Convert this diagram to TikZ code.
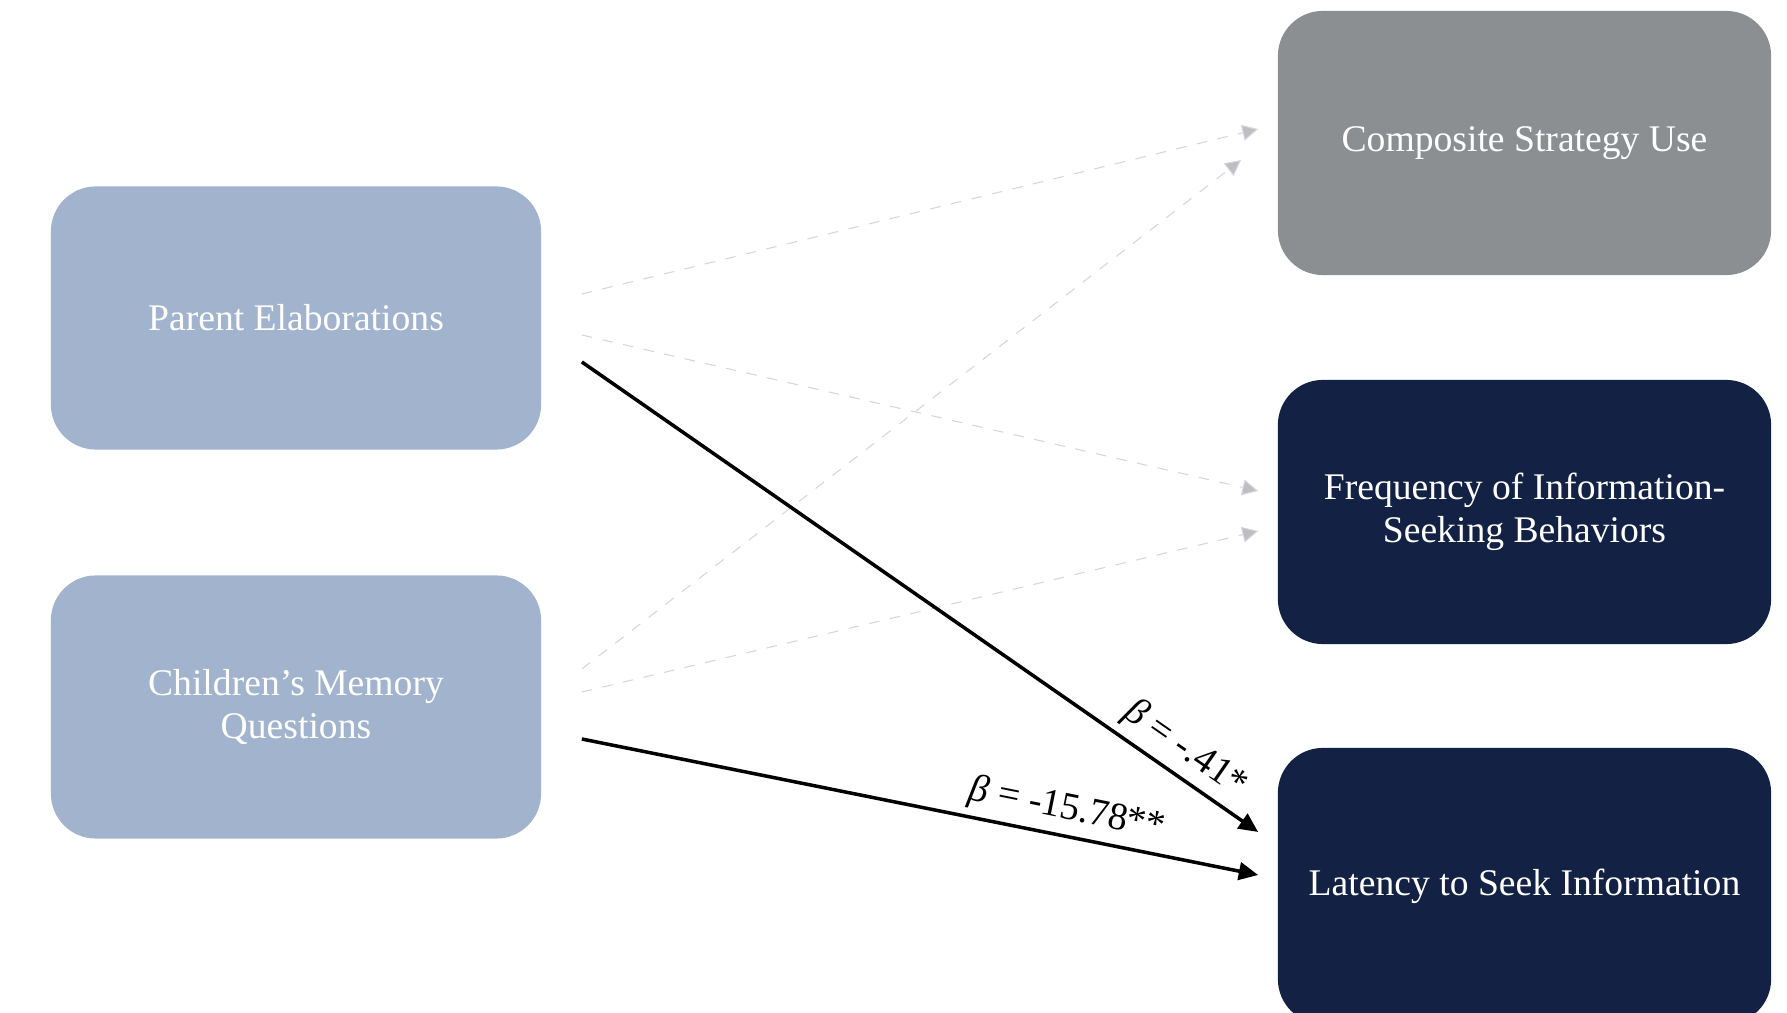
\documentclass[tikz,border=0pt]{standalone}
\usepackage{fontspec}
\setmainfont{Liberation Serif}
\usetikzlibrary{arrows.meta,calc}
\definecolor{lightblue}{HTML}{A2B3CD}
\definecolor{stratgray}{HTML}{8B8F92}
\definecolor{navy}{HTML}{132244}
\definecolor{dashgray}{HTML}{D6D6DA}
\definecolor{tipgray}{HTML}{BDBEC3}

\begin{document}
\begin{tikzpicture}[x=0.01cm, y=-0.01cm,
    pred/.style={rounded corners=0.45cm, minimum width=4.9cm, minimum height=2.63cm, align=center, font=\fontsize{10.7}{12.2}\selectfont, text=white, fill=lightblue},
    outc/.style={rounded corners=0.45cm, minimum width=4.93cm, minimum height=2.64cm, align=center, font=\fontsize{10.7}{12.2}\selectfont, text=white, fill=navy},
    arr/.style={-{Triangle[length=5.5pt,width=5pt]}, line width=1pt},
    narr/.style={-{Triangle[length=4.5pt,width=4.5pt,fill=tipgray]}, dashed, dashgray, line width=0.3pt},
    lbl/.style={font=\fontsize{11}{13}\selectfont, sloped, above, inner sep=2pt}
]
\useasboundingbox (0,0) rectangle (1787,1013);
\node[pred] (PE) at (296,318) {Parent Elaborations};
\node[pred] (CM) at (296,707) {Children’s Memory\\Questions};
\node[outc, fill=stratgray] (CS) at (1524.5,143) {Composite Strategy Use};
\node[outc] (FI) at (1524.5,512) {Frequency of Information-\\Seeking Behaviors};
\node[outc, minimum height=2.76cm] (LS) at (1524.5,886) {Latency to Seek Information};

\draw[narr] ($(PE.east)+(40,-24)$) -- ($(CS.west)+(-19,-14)$);
\draw[narr] ($(PE.east)+(40,17)$) -- ($(FI.west)+(-19,-21)$);
\draw[narr] ($(CM.east)+(40,-38)$) -- ($(CS.west)+(-36,17)$);
\draw[narr] ($(CM.east)+(40,-15)$) -- ($(FI.west)+(-19,19)$);
\draw[arr] ($(PE.east)+(40,44)$) -- node[lbl, pos=0.87] {\textit{β} = -.41*} ($(LS.west)+(-19,-54)$);
\draw[arr] ($(CM.east)+(40,32)$) -- node[lbl, pos=0.71] {\textit{β} = -15.78**} ($(LS.west)+(-19,-11)$);
\end{tikzpicture}
\end{document}
